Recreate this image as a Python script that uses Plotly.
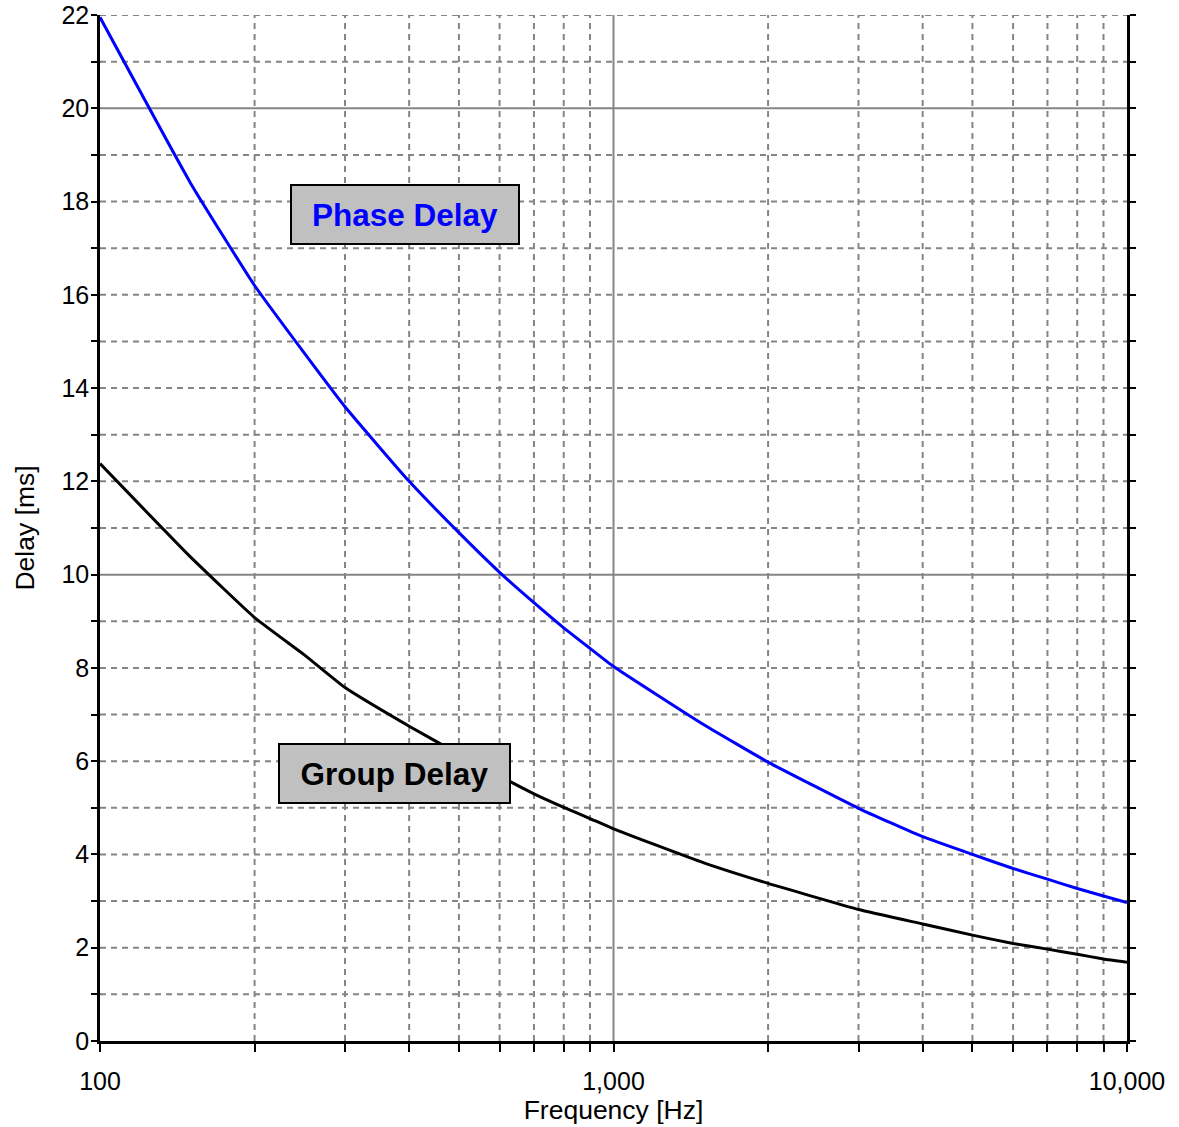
import plotly.graph_objects as go
import math

freq = [100, 150, 200, 250, 300, 400, 500, 600, 700, 800, 900, 1000,
        1500, 2000, 3000, 4000, 5000, 6000, 7000, 8000, 9000, 10000]
phase_delay = [21.95, 18.4, 16.2, 14.75, 13.6, 12.0, 10.9, 10.05, 9.4, 8.86, 8.42, 8.03,
               6.78, 5.98, 4.99, 4.38, 4.0, 3.70, 3.47, 3.27, 3.11, 2.97]
group_delay = [12.38, 10.38, 9.08, 8.28, 7.58, 6.75, 6.15, 5.68, 5.3, 5.01, 4.77, 4.55,
               3.82, 3.38, 2.82, 2.51, 2.27, 2.09, 1.97, 1.86, 1.76, 1.69]

y_ticks = list(range(0, 23))
y_major_grid = [10, 20]
x_decades = [100, 1000, 10000]
x_decade_labels = ["100", "1,000", "10,000"]
x_minor = [m * d for d in [100, 1000] for m in range(2, 10)]

FONT = "Liberation Sans, Arial, sans-serif"
GRID = "#858585"

fig = go.Figure()
fig.add_trace(go.Scatter(x=freq, y=phase_delay, mode="lines", line_shape="spline",
                         line=dict(color="#0000ff", width=3, smoothing=0.4), showlegend=False))
fig.add_trace(go.Scatter(x=freq, y=group_delay, mode="lines", line_shape="spline",
                         line=dict(color="#000000", width=3, smoothing=0.4), showlegend=False))

shapes = []
for v in y_ticks[1:]:
    solid = v in y_major_grid
    shapes.append(dict(type="line", xref="paper", yref="y", x0=0, x1=1, y0=v, y1=v,
                       line=dict(color=GRID, width=2,
                                 dash="solid" if solid else "6px,5px"),
                       layer="below"))
for v in x_minor + [1000]:
    solid = v == 1000
    shapes.append(dict(type="line", xref="x", yref="paper", x0=v, x1=v, y0=0, y1=1,
                       line=dict(color=GRID, width=2,
                                 dash="solid" if solid else "6px,5px"),
                       layer="below"))

tickvals_x = sorted(x_decades + x_minor)
ticktext_x = [x_decade_labels[x_decades.index(v)] if v in x_decades else "" for v in tickvals_x]

fig.update_layout(
    width=1179, height=1127,
    margin=dict(l=100, r=52, t=15, b=86),
    paper_bgcolor="white", plot_bgcolor="white",
    font=dict(family=FONT, size=25, color="black"),
    shapes=shapes,
    xaxis=dict(type="log", range=[2, 4], tickvals=tickvals_x, ticktext=ticktext_x,
               ticks="outside", ticklen=8, tickwidth=2, tickcolor="black",
               showline=True, linecolor="black", linewidth=2.5, mirror=False,
               showgrid=False, zeroline=False, ticklabelstandoff=8,
               automargin=False, tickfont=dict(size=25),
               title=dict(text="Frequency [Hz]", font=dict(size=26.5), standoff=4)),
    yaxis=dict(range=[0, 22], tickvals=y_ticks,
               ticktext=[str(v) if v % 2 == 0 else "" for v in y_ticks],
               ticks="outside", ticklen=6, tickwidth=2, tickcolor="black",
               showline=True, linecolor="black", linewidth=2.5, mirror="ticks",
               showgrid=False, zeroline=False, tickfont=dict(size=25),
               ticklabelstandoff=-3, automargin=False,
               title=dict(text="Delay [ms]", font=dict(size=26.5), standoff=20)),
    annotations=[
        dict(x=math.log10(393), y=17.73, xref="x", yref="y", text="<b>Phase Delay</b>",
             showarrow=False, font=dict(size=31.5, color="#0000ff"),
             bgcolor="#c0c0c0", bordercolor="black", borderwidth=2, borderpad=1,
             width=224, height=55),
        dict(x=math.log10(375), y=5.735, xref="x", yref="y", text="<b>Group Delay</b>",
             showarrow=False, font=dict(size=31.5, color="black"),
             bgcolor="#c0c0c0", bordercolor="black", borderwidth=2, borderpad=1,
             width=227, height=55),
    ],
)

fig.write_html("out.html")
